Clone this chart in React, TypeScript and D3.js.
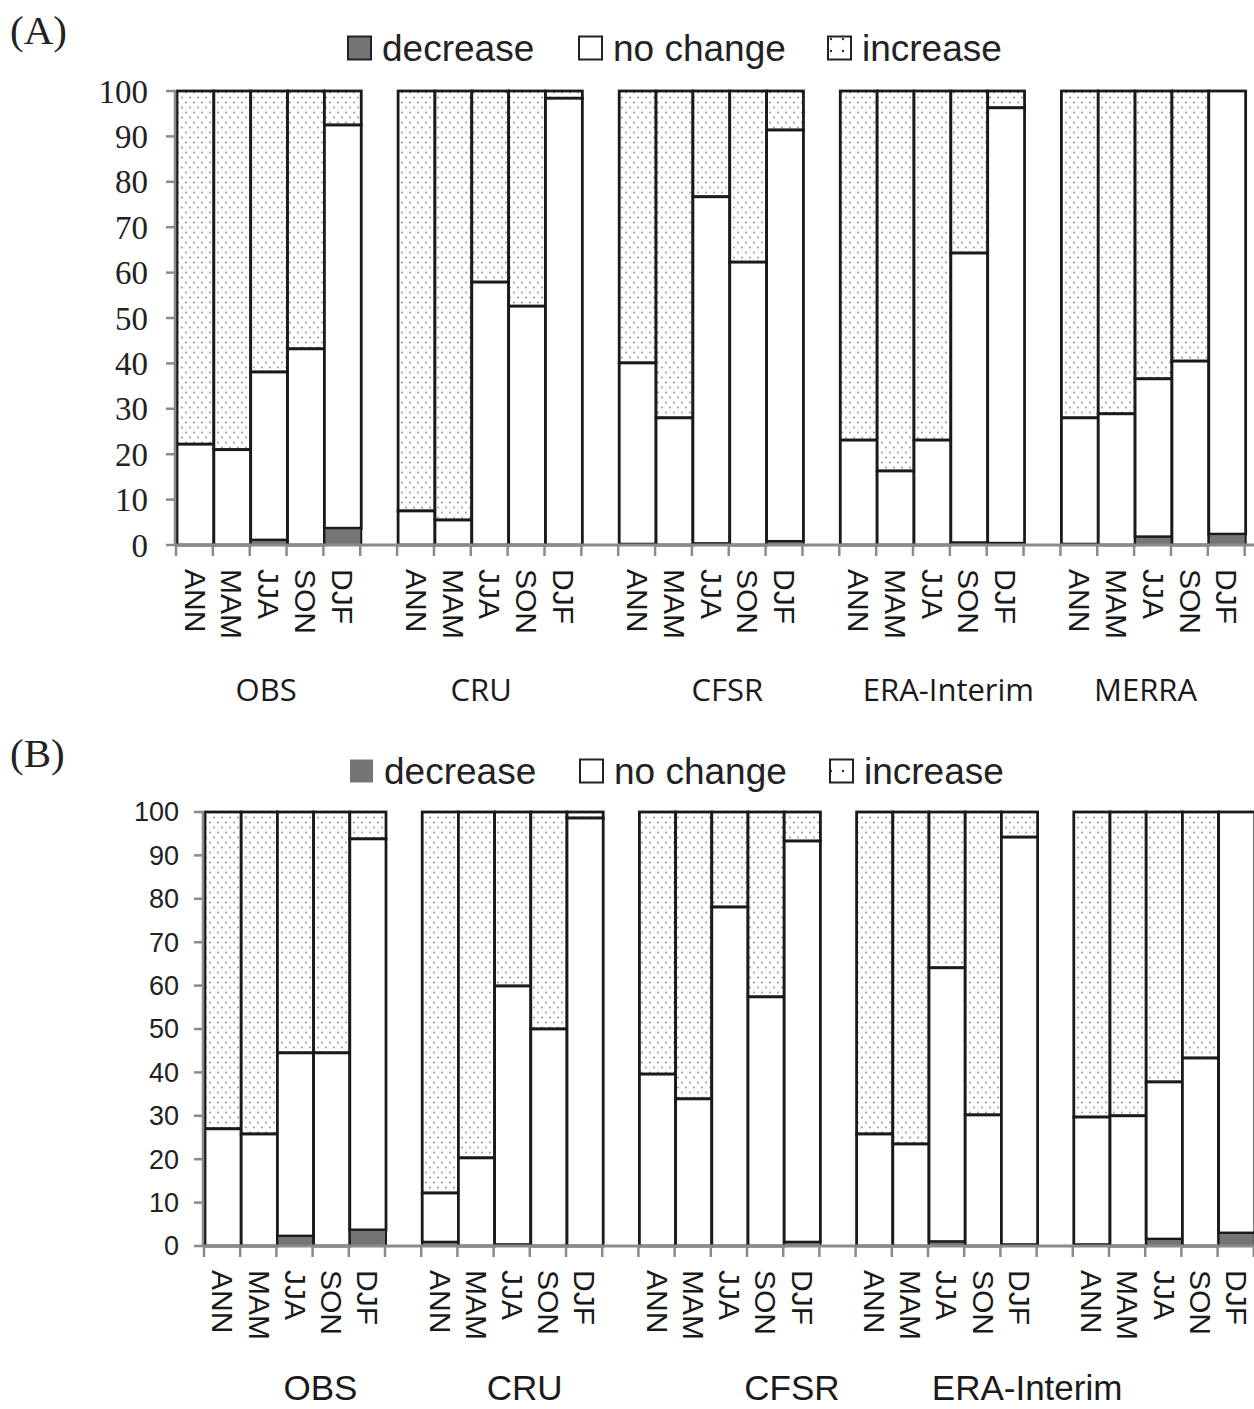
import React from 'react';
import * as d3 from 'd3';

// seasons shown under each dataset group
const seasons = ['ANN', 'MAM', 'JJA', 'SON', 'DJF'];
const datasets = ['OBS', 'CRU', 'CFSR', 'ERA-Interim', 'MERRA'];
const groupLabelsA = ['OBS', 'CRU', 'CFSR', 'ERA-Interim', 'MERRA'];
const groupLabelsB = ['OBS', 'CRU', 'CFSR', 'ERA-Interim'];
const yTicks = [0, 10, 20, 30, 40, 50, 60, 70, 80, 90, 100];
const legendNames = ['decrease', 'no change', 'increase'];

// percentages, dataset by dataset, season order as above
const decreaseA = [0, 0, 1.1, 0, 3.7, 0, 0, 0, 0, 0, 0.2, 0, 0.3, 0, 0.8, 0, 0, 0, 0.5, 0.4, 0.2, 0, 1.8, 0, 2.4];
const noChangeA = [22.2, 21, 37, 43.2, 88.8, 7.5, 5.5, 57.9, 52.6, 98.4, 39.9, 28, 76.4, 62.3, 90.6, 23.1, 16.3, 23.1, 63.8, 95.9, 27.8, 28.9, 34.8, 40.5, 97.6];
const decreaseB = [0, 0, 2.3, 0, 3.7, 0.9, 0, 0.3, 0, 0, 0, 0, 0, 0, 0.9, 0, 0, 1, 0, 0.3, 0.3, 0, 1.6, 0, 3];
const noChangeB = [27, 25.8, 42.2, 44.5, 90.1, 11.3, 20.3, 59.6, 50, 98.6, 39.6, 33.9, 78.1, 57.4, 92.4, 25.8, 23.5, 63.1, 30.2, 93.9, 29.4, 30, 36.2, 43.3, 97];

const W = 1254;
const H = 1409;
const DARK = '#757575';
const EDGE = '#1a1a1a';
const AXIS = '#8a8a8a';

const panels = [
  {
    key: 'A', title: '(A)', titleY: 44,
    decrease: decreaseA, noChange: noChangeA, groupLabels: groupLabelsA,
    x0: 177, slot: 36.85, yTop: 91, yBottom: 545,
    tickFont: '"Liberation Serif", "Times New Roman", serif', tickSize: 33, tickRight: 148,
    legendY: 48, legendX: [348, 579, 828], legendStroke: true,
    groupFont: '"Open Sans", sans-serif', groupSize: 31, groupY: 701,
    groupNudge: [-3, -9, 16, 16, -8],
  },
  {
    key: 'B', title: '(B)', titleY: 767,
    decrease: decreaseB, noChange: noChangeB, groupLabels: groupLabelsB,
    x0: 205, slot: 36.2, yTop: 812, yBottom: 1246,
    tickFont: '"Liberation Sans", Arial, sans-serif', tickSize: 27, tickRight: 179,
    legendY: 771, legendX: [350, 580, 830], legendStroke: false,
    groupFont: '"Liberation Sans", Arial, sans-serif', groupSize: 35, groupY: 1400,
    groupNudge: [25, 12, 62, 80, 0],
  },
];

const Panel = ({ p }: { p: typeof panels[number] }) => {
  const nSlots = datasets.length * 6;
  const x = d3.scaleLinear().domain([0, nSlots]).range([p.x0, p.x0 + nSlots * p.slot]);
  const y = d3.scaleLinear().domain([0, 100]).range([p.yBottom, p.yTop]);
  const axisX = p.x0 - 2;
  const sans = '"Liberation Sans", Arial, sans-serif';

  const bars = d3.range(datasets.length * seasons.length).map((i) => {
    const g = Math.floor(i / seasons.length);
    const s = i % seasons.length;
    const slot = g * 6 + s;
    const dec = p.decrease[i];
    const nc = p.noChange[i];
    return { i, slot, season: seasons[s], dec, top: dec + nc };
  });

  return (
    <g>
      <text x={10} y={p.titleY} fontFamily='"Liberation Serif", "Times New Roman", serif' fontSize={41} fill="#222">{p.title}</text>

      {/* legend */}
      {legendNames.map((name, k) => {
        const lx = p.legendX[k];
        const sq = 23;
        const fill = k === 0 ? DARK : k === 1 ? '#fff' : 'url(#dotsLegend)';
        const stroke = k === 0 && !p.legendStroke ? 'none' : '#222';
        return (
          <g key={name}>
            <rect x={lx} y={p.legendY - sq / 2} width={sq} height={sq} fill={fill} stroke={stroke} strokeWidth={2} />
            <text x={lx + sq + 11} y={p.legendY} dy="0.35em" fontFamily={sans} fontSize={37} fill="#222">{name}</text>
          </g>
        );
      })}

      {/* bars */}
      {bars.map((b) => {
        const bx = x(b.slot);
        const bw = x(b.slot + 1) - x(b.slot);
        return (
          <g key={b.i}>
            {b.top < 100 && (
              <rect x={bx} y={y(100)} width={bw} height={y(b.top) - y(100)} fill="url(#dots)" stroke={EDGE} strokeWidth={2.8} />
            )}
            <rect x={bx} y={y(b.top)} width={bw} height={y(b.dec) - y(b.top)} fill="#fff" stroke={EDGE} strokeWidth={2.8} />
            {b.dec > 0 && (
              <rect x={bx} y={y(b.dec)} width={bw} height={y(0) - y(b.dec)} fill={DARK} stroke={EDGE} strokeWidth={2} />
            )}
          </g>
        );
      })}

      {/* y axis */}
      <line x1={axisX} x2={axisX} y1={y(0)} y2={y(100)} stroke={AXIS} strokeWidth={2.5} />
      {yTicks.map((t) => (
        <g key={t}>
          <line x1={axisX - 9} x2={axisX} y1={y(t)} y2={y(t)} stroke={AXIS} strokeWidth={2.5} />
          <text x={p.tickRight} y={y(t)} dy="0.35em" textAnchor="end" fontFamily={p.tickFont} fontSize={p.tickSize} fill="#222">{t}</text>
        </g>
      ))}

      {/* x axis */}
      <line x1={axisX} x2={W + 40} y1={y(0)} y2={y(0)} stroke={AXIS} strokeWidth={3} />
      {d3.range(nSlots + 1).map((k) => (
        <line key={k} x1={x(k) - 1} x2={x(k) - 1} y1={y(0)} y2={y(0) + 11} stroke={AXIS} strokeWidth={2.5} />
      ))}
      {bars.map((b) => {
        const cx = (x(b.slot) + x(b.slot + 1)) / 2;
        const ty = y(0) + 24;
        return (
          <text key={b.i} x={cx} y={ty} transform={`rotate(90 ${cx} ${ty})`} dy="0.36em"
            fontFamily={sans} fontSize={30} fill="#1a1a1a">{b.season}</text>
        );
      })}

      {/* dataset names */}
      {p.groupLabels.map((name, g) => (
        <text key={name} x={x(g * 6 + 2.5) + p.groupNudge[g]} y={p.groupY} textAnchor="middle"
          fontFamily={p.groupFont} fontSize={p.groupSize} fill="#1a1a1a">{name}</text>
      ))}
    </g>
  );
};

export default function App() {
  return (
    <svg width={W} height={H} style={{ position: 'absolute', left: 0, top: 0, background: '#fff' }}>
      <defs>
        <pattern id="dots" patternUnits="userSpaceOnUse" width={8} height={10}>
          <rect width={8} height={10} fill="#fff" />
          <circle cx={2} cy={2.5} r={0.9} fill="#8a8a8a" />
          <circle cx={6} cy={7.5} r={0.9} fill="#8a8a8a" />
        </pattern>
        <pattern id="dotsLegend" patternUnits="userSpaceOnUse" width={12} height={12}>
          <rect width={12} height={12} fill="#fff" />
          <circle cx={3} cy={3} r={1.2} fill="#333" />
        </pattern>
      </defs>
      <rect width={W} height={H} fill="#fff" />
      {panels.map((p) => <Panel key={p.key} p={p} />)}
    </svg>
  );
}
